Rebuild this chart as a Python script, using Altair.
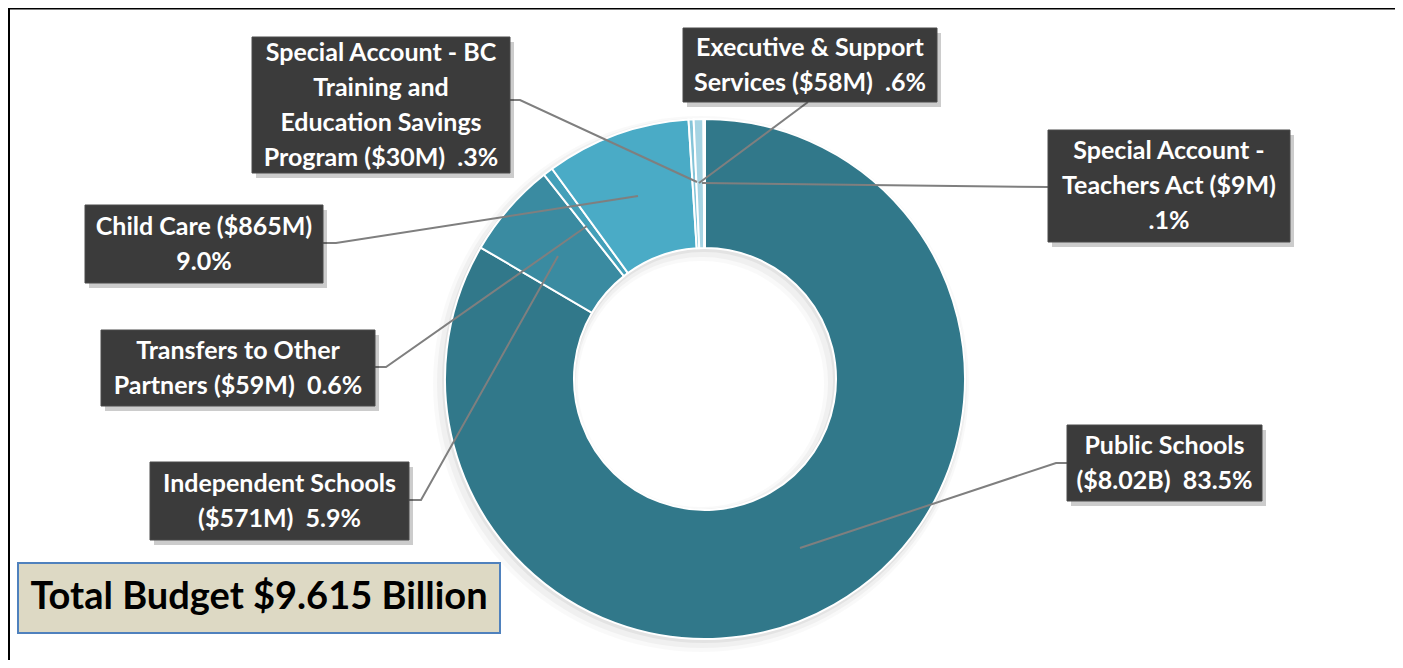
import altair as alt
import pandas as pd

# ---------------- data ----------------
categories = [
    "Public Schools",
    "Independent Schools",
    "Transfers to Other Partners",
    "Child Care",
    "Special Account - BC Training and Education Savings Program",
    "Executive & Support Services",
    "Special Account - Teachers Act",
]
amounts_m = [8020, 571, 59, 865, 30, 58, 9]
NB = "\u00a0"
label_texts = [
    "Public Schools\n($8.02B)" + NB + " 83.5%",
    "Independent Schools\n($571M)" + NB + " 5.9%",
    "Transfers to Other\nPartners ($59M)" + NB + " 0.6%",
    "Child Care ($865M)\n9.0%",
    "Special Account - BC\nTraining and\nEducation Savings\nProgram ($30M)" + NB + " .3%",
    "Executive & Support\nServices ($58M)" + NB + " .6%",
    "Special Account -\nTeachers Act ($9M)\n.1%",
]
total_text = "Total Budget $9.615 Billion"

# ---------------- styles / layout ----------------
colors = ["#31788A", "#3A8BA1", "#43A0B9", "#4AABC6", "#84C4D8", "#A6D4E3", "#C5E3EC"]
W, H = 1387, 652
M = 8  # page margin
cx, cy = 705 - M, 379 - M
r_in, r_out = 131, 260
LH = 35
FONT = "Lato, sans-serif"

# box extents (page pixel coords): x0, x1, y0, y1
boxes = [
    (1067, 1262, 425, 501),
    (150, 409, 462, 540),
    (101, 375, 330, 406),
    (85, 323, 205, 283),
    (252, 510, 37, 173),
    (683, 937, 28, 102),
    (1048, 1290, 130, 242),
]
# leader line polylines (page coords)
leaders = [
    [(1067, 463), (1056, 463), (800, 548)],
    [(409, 500), (421, 500), (558, 256)],
    [(375, 367), (386, 367), (587, 226)],
    [(323, 243), (336, 243), (638, 196)],
    [(510, 100), (520, 100), (697, 182)],
    [(808, 102), (699, 183)],
    [(1048, 187), (702, 183)],
]

xs = alt.Scale(domain=[0, W], range=[0, W], nice=False, zero=False)
ys = alt.Scale(domain=[0, H], reverse=True, nice=False, zero=False)
X = lambda f: alt.X(f, type="quantitative", scale=xs, axis=None)
X2 = lambda f: alt.X2(f)
Y = lambda f: alt.Y(f, type="quantitative", scale=ys, axis=None)
Y2 = lambda f: alt.Y2(f)

pie_df = pd.DataFrame({"category": categories, "amount": amounts_m, "ord": list(range(len(categories)))})

box_df = pd.DataFrame({
    "category": categories,
    "text": label_texts,
    "x0": [b[0] - M for b in boxes],
    "x1": [b[1] - M for b in boxes],
    "y0": [b[2] - M for b in boxes],
    "y1": [b[3] - M for b in boxes],
})
box_df["xc"] = (box_df.x0 + box_df.x1) / 2
box_df["nl"] = [t.count("\n") for t in label_texts]
box_df["yt"] = (box_df.y0 + box_df.y1) / 2 - box_df.nl * LH / 2
box_df["sx0"] = box_df.x0 + 4
box_df["sx1"] = box_df.x1 + 4
box_df["sy0"] = box_df.y0 + 5
box_df["sy1"] = box_df.y1 + 5

rows = []
for cat, pts in zip(categories, leaders):
    for i, (px, py) in enumerate(pts):
        rows.append({"category": cat, "seq": i, "x": px - M, "y": py - M})
lead_df = pd.DataFrame(rows)

one = pd.DataFrame({"a": [1]})

frame = alt.Chart(pd.DataFrame({"x0": [0.5], "x1": [1389.5], "y0": [0.0], "y1": [700]})).mark_rect(
    fill=None, stroke="#000000", strokeWidth=3, clip=False
).encode(x=X("x0"), x2=X2("x1"), y=Y("y0"), y2=Y2("y1"))

tick = alt.Chart(pd.DataFrame({"x0": [1388], "x1": [1395], "y": [347]})).mark_rule(
    stroke="#000000", strokeWidth=3
).encode(x=X("x0"), x2=X2("x1"), y=Y("y"))

shadows = []
for dx, dy, extra, op in [(-4, 5, 8, 0.025), (-3, 4, 5, 0.035), (-1, 2, 2, 0.05)]:
    shadows.append(
        alt.Chart(one).mark_arc(
            theta=0, theta2=6.2832, innerRadius=r_in - extra, outerRadius=r_out + extra,
            fill="#000000", opacity=op
        ).encode(x=alt.value(cx + dx), y=alt.value(cy + dy))
    )

donut = alt.Chart(pie_df).mark_arc(
    innerRadius=r_in, outerRadius=r_out, stroke="#ffffff", strokeWidth=2
).encode(
    theta=alt.Theta("amount:Q", stack=True),
    order=alt.Order("ord:Q"),
    color=alt.Color("category:N", scale=alt.Scale(domain=categories, range=colors), legend=None),
    x=alt.value(cx),
    y=alt.value(cy),
)

lines = alt.Chart(lead_df).mark_line(color="#7F7F7F", strokeWidth=2).encode(
    x=X("x"), y=Y("y"), detail="category:N", order="seq:Q"
)

box_shadow = alt.Chart(box_df).mark_rect(fill="#000000", opacity=0.2).encode(
    x=X("sx0"), x2=X2("sx1"), y=Y("sy0"), y2=Y2("sy1")
)
box_rect = alt.Chart(box_df).mark_rect(fill="#3B3B3B", stroke="#4a4a4a", strokeWidth=1).encode(
    x=X("x0"), x2=X2("x1"), y=Y("y0"), y2=Y2("y1")
)
box_text = alt.Chart(box_df).mark_text(
    color="#ffffff", font=FONT, fontWeight="bold",
    fontSize=25, lineHeight=LH, lineBreak="\n", align="center", baseline="middle"
).encode(x=X("xc"), y=Y("yt"), text="text:N")

total_df = pd.DataFrame({"x0": [18 - M], "x1": [500 - M], "y0": [563 - M], "y1": [633 - M], "t": [total_text]})
total_df["xc"] = (total_df.x0 + total_df.x1) / 2
total_df["yc"] = (total_df.y0 + total_df.y1) / 2
total_rect = alt.Chart(total_df).mark_rect(fill="#DDD9C4", stroke="#4F81BD", strokeWidth=2).encode(
    x=X("x0"), x2=X2("x1"), y=Y("y0"), y2=Y2("y1")
)
total_txt = alt.Chart(total_df).mark_text(
    color="#000000", font=FONT, fontWeight="bold",
    fontSize=38, align="center", baseline="middle"
).encode(x=X("xc"), y=Y("yc"), text="t:N")

chart = alt.layer(
    frame, tick, *shadows, donut, lines, box_shadow, box_rect, box_text, total_rect, total_txt
).properties(
    width=W, height=H, padding=0, autosize=alt.AutoSizeParams(type="none"), background="#ffffff"
).configure_view(stroke=None)

chart.save("out.html", embed_options={"renderer": "svg", "actions": False})
